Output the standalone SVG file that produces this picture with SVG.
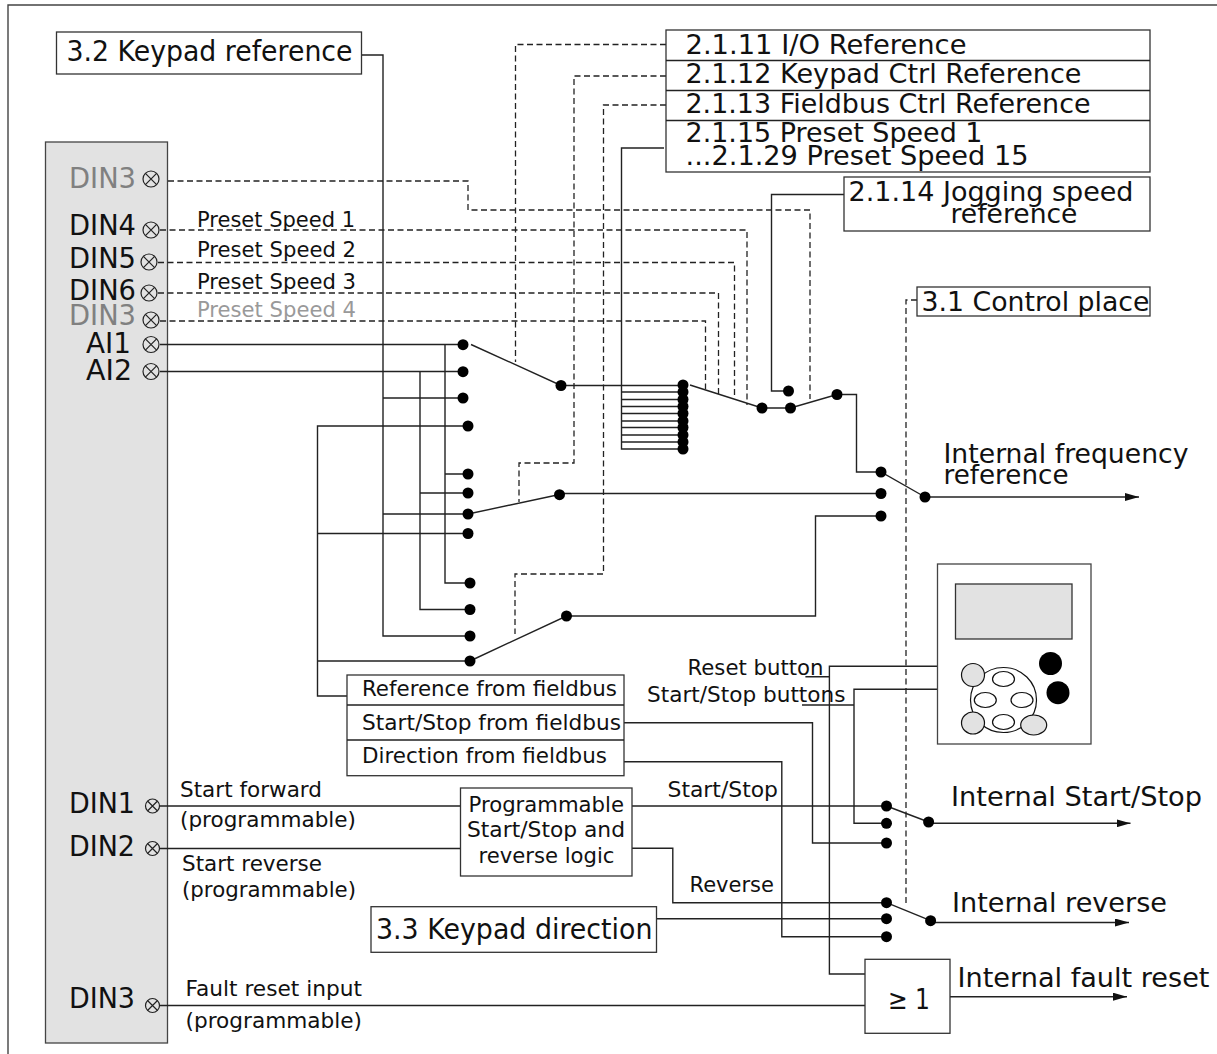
<svg xmlns="http://www.w3.org/2000/svg" width="1217" height="1054" viewBox="0 0 1217 1054">
<style>
text{font-family:"DejaVu Sans","Liberation Sans",sans-serif;fill:#111}
.l{font-size:28px}.m{font-size:27px}.s{font-size:22px}.g{fill:#808080}.g2{fill:#999}
.box{fill:#fff;stroke:#333;stroke-width:1.3}
.w{fill:none;stroke:#222;stroke-width:1.4}
.d{fill:none;stroke:#222;stroke-width:1.3;stroke-dasharray:6 3.5}
.dot{fill:#000}
.term{fill:none;stroke:#222;stroke-width:1.2}
</style>
<defs>
<g id="tm"><circle class="term" r="8"/><path class="term" d="M-5.6-5.6 5.6 5.6M-5.6 5.6 5.6-5.6"/></g>
<g id="tm2"><circle class="term" r="7"/><path class="term" d="M-5-5 5 5M-5 5 5-5"/></g>
<circle id="dt" class="dot" r="5.500"/>
<marker id="ah" markerWidth="14" markerHeight="8" refX="14" refY="4" orient="auto" markerUnits="userSpaceOnUse"><path d="M0 0 14 4 0 8z" fill="#111"/></marker>
</defs>
<rect width="1217" height="1054" fill="#fff"/>
<path d="M8 1054V5H1217" fill="none" stroke="#444" stroke-width="1.4"/>

<g id="terminals">
<rect x="45.500" y="142" width="122" height="901" fill="#e2e2e2" stroke="#444" stroke-width="1.3"/>
<text class="l g" x="69" y="188" textLength="67" lengthAdjust="spacingAndGlyphs">DIN3</text>
<text class="l" x="69" y="235" textLength="67" lengthAdjust="spacingAndGlyphs">DIN4</text>
<text class="l" x="69" y="268" textLength="67" lengthAdjust="spacingAndGlyphs">DIN5</text>
<text class="l" x="69" y="299.500" textLength="67" lengthAdjust="spacingAndGlyphs">DIN6</text>
<text class="l g" x="69" y="325" textLength="67" lengthAdjust="spacingAndGlyphs">DIN3</text>
<text class="l" x="86" y="352.500" textLength="45" lengthAdjust="spacingAndGlyphs">AI1</text>
<text class="l" x="86" y="380" textLength="46" lengthAdjust="spacingAndGlyphs">AI2</text>
<text class="l" x="69" y="813" textLength="66" lengthAdjust="spacingAndGlyphs">DIN1</text>
<text class="l" x="69" y="856" textLength="66" lengthAdjust="spacingAndGlyphs">DIN2</text>
<text class="l" x="69" y="1008" textLength="66" lengthAdjust="spacingAndGlyphs">DIN3</text>
<use href="#tm" x="151" y="179"/><use href="#tm" x="151" y="230"/><use href="#tm" x="149" y="262"/><use href="#tm" x="149" y="293"/><use href="#tm" x="151" y="320"/><use href="#tm" x="151" y="344.500"/><use href="#tm" x="151" y="371.500"/><use href="#tm2" x="152.500" y="806"/><use href="#tm2" x="152.500" y="848.500"/><use href="#tm2" x="152.500" y="1005.500"/>
</g>

<g id="connectors">
<path class="d" d="M168 181H468V210H810V399"/>
<path class="d" d="M160 230H747V405"/>
<path class="d" d="M158 262.500H734.500V397"/>
<path class="d" d="M158 293H718.500V394"/>
<path class="d" d="M160 321H705.500V389"/>
<path class="d" d="M666 44.500H515.500V362"/>
<path class="d" d="M666 76H574V463H519V502"/>
<path class="d" d="M666 105H603.500V574H515V634"/>
<path class="d" d="M917 300H906V905"/>
<path class="w" d="M361 55H383V636H470"/>
<path class="w" d="M160 344.500H463M445 344.500V583H470M445 474H468"/>
<path class="w" d="M160 371.500H463M420 371.500V609.500H470M420 493H468"/>
<path class="w" d="M383 398H463M383 514H468"/>
<path class="w" d="M468 426H317.500V696H347M317.500 533.500H468M317.500 661H470"/>
<path class="w" d="M471 344.500 561 385.500H683"/>
<path class="w" d="M468 514 559.500 494.500M559.500 493.500H881"/>
<path class="w" d="M470 661 566.500 616H815.500V516H881"/>
<path class="w" d="M664 148H621.500V449H683M621.500 392H683M621.500 399.500H683M621.500 406.500H683M621.500 413.500H683M621.500 421H683M621.500 427.500H683M621.500 435H683M621.500 442H683"/>
<path class="w" d="M690 385 762 408H790.500L837 394.500H856.500V472H881L925 497"/>
<path class="w" d="M844 194.500H771.500V391H788.500"/>
<path class="w" marker-end="url(#ah)" d="M925 497H1139"/>
<path class="w" d="M624 722.700H812.500V843H886.500"/>
<path class="w" d="M624 761.700H781.800V936.700H886.500"/>
<path class="w" d="M160 806H460M160 848.500H460M632 806H886.500"/>
<path class="w" d="M631 848.300H672.800V902.700H886.500"/>
<path class="w" d="M656 918.700H886.500"/>
<path class="w" d="M937 666.300H829.400V974H865M805.400 676.700H829.400"/>
<path class="w" d="M937 689.300H854V823.300H886.500M802 705H854"/>
<path class="w" d="M886.500 806 928.600 822"/>
<path class="w" marker-end="url(#ah)" d="M928.600 823.300H1130.500"/>
<path class="w" d="M886.500 902.700 930.600 920.700"/>
<path class="w" marker-end="url(#ah)" d="M930.600 922.500H1129"/>
<path class="w" d="M160 1005.500H865"/>
<path class="w" marker-end="url(#ah)" d="M950 996.700H1127"/>
</g>

<g id="dots">
<use href="#dt" x="463" y="344.700"/><use href="#dt" x="463" y="371.700"/><use href="#dt" x="463" y="398"/><use href="#dt" x="468" y="426"/><use href="#dt" x="468" y="474"/><use href="#dt" x="468" y="493"/><use href="#dt" x="468" y="514"/><use href="#dt" x="468" y="533.500"/><use href="#dt" x="470" y="583"/><use href="#dt" x="470" y="609.500"/><use href="#dt" x="470" y="636"/><use href="#dt" x="470" y="661"/>
<use href="#dt" x="561" y="385.500"/><use href="#dt" x="559.500" y="494.700"/><use href="#dt" x="566.500" y="616"/>
<use href="#dt" x="683" y="385"/><use href="#dt" x="683" y="392"/><use href="#dt" x="683" y="399.500"/><use href="#dt" x="683" y="406.500"/><use href="#dt" x="683" y="413.500"/><use href="#dt" x="683" y="421"/><use href="#dt" x="683" y="427.500"/><use href="#dt" x="683" y="435"/><use href="#dt" x="683" y="442"/><use href="#dt" x="683" y="449"/>
<use href="#dt" x="762" y="408"/><use href="#dt" x="790.500" y="408"/><use href="#dt" x="788.500" y="391"/><use href="#dt" x="837" y="394.500"/>
<use href="#dt" x="881" y="472"/><use href="#dt" x="881" y="493.500"/><use href="#dt" x="881" y="516"/><use href="#dt" x="925" y="497"/>
<use href="#dt" x="886.500" y="806"/><use href="#dt" x="886.500" y="823.300"/><use href="#dt" x="886.500" y="843"/><use href="#dt" x="928.600" y="822"/>
<use href="#dt" x="886.500" y="902.700"/><use href="#dt" x="886.500" y="918.700"/><use href="#dt" x="886.500" y="936.700"/><use href="#dt" x="930.600" y="920.700"/>
</g>

<g id="keypad-reference"><rect class="box" x="56.500" y="32" width="305" height="42"/><text class="l" x="66.500" y="61" textLength="286" lengthAdjust="spacingAndGlyphs">3.2 Keypad reference</text></g>

<g id="parameters">
<rect class="box" x="666" y="30" width="484" height="142"/>
<path class="w" d="M666 60.500H1150M666 90.500H1150M666 120.500H1150"/>
<text class="m" x="685.500" y="53.500" textLength="281" lengthAdjust="spacingAndGlyphs">2.1.11 I/O Reference</text>
<text class="m" x="685.500" y="83" textLength="396" lengthAdjust="spacingAndGlyphs">2.1.12 Keypad Ctrl Reference</text>
<text class="m" x="685.500" y="113" textLength="405" lengthAdjust="spacingAndGlyphs">2.1.13 Fieldbus Ctrl Reference</text>
<text class="m" x="685.500" y="142" textLength="297" lengthAdjust="spacingAndGlyphs">2.1.15 Preset Speed 1</text>
<text class="m" x="685.500" y="165" textLength="343" lengthAdjust="spacingAndGlyphs">...2.1.29 Preset Speed 15</text>
</g>
<g id="jogging"><rect class="box" x="844" y="177" width="306" height="54"/><text class="m" x="848.500" y="201" textLength="285" lengthAdjust="spacingAndGlyphs">2.1.14 Jogging speed</text><text class="m" x="950.500" y="222.500" textLength="127" lengthAdjust="spacingAndGlyphs">reference</text></g>
<g id="control-place"><rect class="box" x="917" y="287" width="233" height="29"/><text class="m" x="921.500" y="311" textLength="228" lengthAdjust="spacingAndGlyphs">3.1 Control place</text></g>

<g id="fieldbus">
<rect class="box" x="347" y="675" width="277" height="100.700"/>
<path class="w" d="M347 705H624M347 740H624"/>
<text class="s" x="362" y="695.500" textLength="255" lengthAdjust="spacingAndGlyphs">Reference from fieldbus</text>
<text class="s" x="362" y="730" textLength="259" lengthAdjust="spacingAndGlyphs">Start/Stop from fieldbus</text>
<text class="s" x="362" y="762.500" textLength="245" lengthAdjust="spacingAndGlyphs">Direction from fieldbus</text>
</g>
<g id="logic">
<rect class="box" x="460.500" y="788" width="171.500" height="88"/>
<text class="s" x="468.500" y="811.500" textLength="155.500" lengthAdjust="spacingAndGlyphs">Programmable</text>
<text class="s" x="467" y="836.500" textLength="158" lengthAdjust="spacingAndGlyphs">Start/Stop and</text>
<text class="s" x="478.500" y="862.500" textLength="136" lengthAdjust="spacingAndGlyphs">reverse logic</text>
</g>
<g id="keypad-direction"><rect class="box" x="371" y="906.700" width="285.500" height="45.600"/><text class="l" x="376" y="939" textLength="276.500" lengthAdjust="spacingAndGlyphs">3.3 Keypad direction</text></g>
<g id="or-gate"><rect class="box" x="865" y="959.300" width="85" height="74"/><text class="l" x="888" y="1009" textLength="42" lengthAdjust="spacingAndGlyphs">≥ 1</text></g>

<g id="keypad">
<rect x="937.500" y="564" width="153.500" height="180" fill="#fff" stroke="#444" stroke-width="1.3"/>
<rect x="955.500" y="584" width="116.500" height="55" fill="#e2e2e2" stroke="#333" stroke-width="1.3"/>
<ellipse cx="1050.500" cy="663.500" rx="11.500" ry="11.500" fill="#000"/><ellipse cx="1058" cy="692.700" rx="11.500" ry="11.500" fill="#000"/>
<ellipse cx="1003.500" cy="700" rx="33" ry="32.500" fill="#fff" stroke="#111" stroke-width="1.2"/>
<g fill="#fff" stroke="#111" stroke-width="1.2"><ellipse cx="1003.500" cy="679" rx="11" ry="7.500"/><ellipse cx="985.300" cy="700" rx="11" ry="7.500"/><ellipse cx="1022" cy="700" rx="11" ry="7.500"/><ellipse cx="1003.500" cy="722" rx="11" ry="7.500"/></g>
<g fill="#e2e2e2" stroke="#111" stroke-width="1.2"><ellipse cx="973" cy="675" rx="11.500" ry="11.500"/><ellipse cx="973" cy="723" rx="11.500" ry="11"/><ellipse cx="1033.700" cy="725" rx="13" ry="10"/></g>
</g>

<g id="labels">
<text class="s" x="197" y="226.500" textLength="158" lengthAdjust="spacingAndGlyphs">Preset Speed 1</text>
<text class="s" x="197" y="257" textLength="159" lengthAdjust="spacingAndGlyphs">Preset Speed 2</text>
<text class="s" x="197" y="289" textLength="159" lengthAdjust="spacingAndGlyphs">Preset Speed 3</text>
<text class="s g2" x="197" y="316.500" textLength="159" lengthAdjust="spacingAndGlyphs">Preset Speed 4</text>
<text class="m" x="943.500" y="463" textLength="245" lengthAdjust="spacingAndGlyphs">Internal frequency</text>
<text class="m" x="943.500" y="483.500" textLength="125" lengthAdjust="spacingAndGlyphs">reference</text>
<text class="m" x="951" y="806" textLength="251" lengthAdjust="spacingAndGlyphs">Internal Start/Stop</text>
<text class="m" x="952" y="911.500" textLength="215" lengthAdjust="spacingAndGlyphs">Internal reverse</text>
<text class="m" x="957.500" y="987" textLength="252" lengthAdjust="spacingAndGlyphs">Internal fault reset</text>
<text class="s" x="687.500" y="675" textLength="136" lengthAdjust="spacingAndGlyphs">Reset button</text>
<text class="s" x="647" y="701.500" textLength="198.500" lengthAdjust="spacingAndGlyphs">Start/Stop buttons</text>
<text class="s" x="667.500" y="797" textLength="110.500" lengthAdjust="spacingAndGlyphs">Start/Stop</text>
<text class="s" x="689.500" y="891.500" textLength="84.500" lengthAdjust="spacingAndGlyphs">Reverse</text>
<text class="s" x="180" y="796.500" textLength="142" lengthAdjust="spacingAndGlyphs">Start forward</text>
<text class="s" x="180" y="826.500" textLength="176" lengthAdjust="spacingAndGlyphs">(programmable)</text>
<text class="s" x="182" y="870.500" textLength="140" lengthAdjust="spacingAndGlyphs">Start reverse</text>
<text class="s" x="182" y="896.500" textLength="174" lengthAdjust="spacingAndGlyphs">(programmable)</text>
<text class="s" x="185.500" y="996" textLength="176.500" lengthAdjust="spacingAndGlyphs">Fault reset input</text>
<text class="s" x="185.500" y="1028" textLength="176.500" lengthAdjust="spacingAndGlyphs">(programmable)</text>
</g>
</svg>
